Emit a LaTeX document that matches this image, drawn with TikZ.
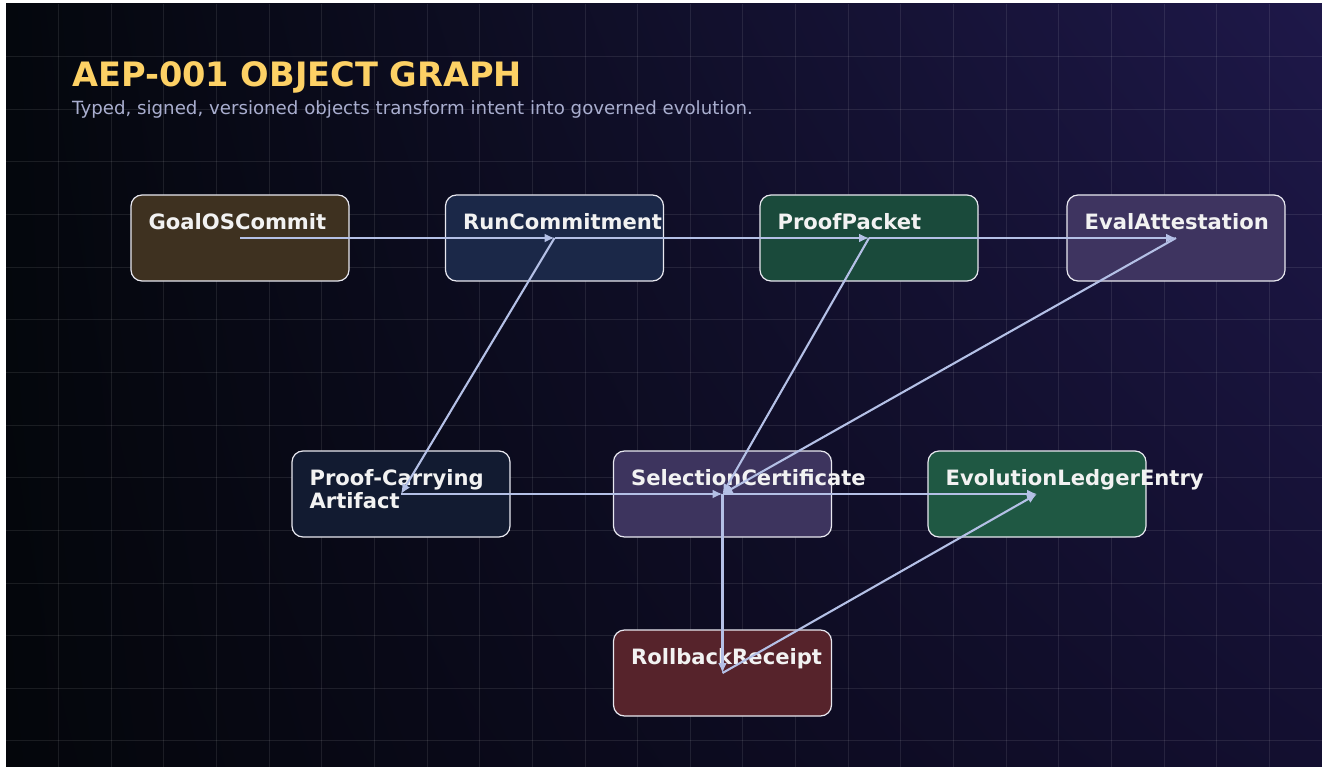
\documentclass[tikz,border=0pt]{standalone}
\usepackage{fontspec}
\setmainfont{DejaVu Sans}
\usetikzlibrary{arrows.meta,calc,shadings}
\definecolor{bgUL}{HTML}{04070D}
\definecolor{bgUR}{HTML}{1E1849}
\definecolor{bgLL}{HTML}{04060B}
\definecolor{bgLR}{HTML}{130F30}
\definecolor{titlecol}{HTML}{FDD165}
\definecolor{subcol}{HTML}{A9AECF}
\definecolor{edgecol}{HTML}{B4C0E6}
\definecolor{bordercol}{HTML}{E8E8F0}
\definecolor{cGoal}{HTML}{3E3120}
\definecolor{cRun}{HTML}{1B2848}
\definecolor{cProof}{HTML}{1A4A3B}
\definecolor{cEval}{HTML}{3E3460}
\definecolor{cPCA}{HTML}{121B31}
\definecolor{cSel}{HTML}{3D345E}
\definecolor{cEvo}{HTML}{1F5843}
\definecolor{cRoll}{HTML}{56232B}
\tikzset{
  objbox/.style={draw=bordercol, line width=1.2pt, rounded corners=11pt,
    minimum width=218pt, minimum height=86pt, inner sep=0pt},
  lbl/.style={text=white!95!black, inner sep=0pt,
    font=\fontsize{21.1}{23}\selectfont\bfseries},
  edge/.style={draw=edgecol, line width=2.1pt,
    -{Latex[length=10pt,width=9pt]}},
  gridline/.style={draw=white, opacity=0.09, line width=1pt}
}
\begin{document}
\begin{tikzpicture}[x=1pt,y=-1pt]
\useasboundingbox (0,0) rectangle (1322,767);
\fill[white] (0,0) rectangle (1322,767);
\shade[upper left=bgUL, upper right=bgUR, lower left=bgLL, lower right=bgLR]
  (6,4) rectangle (1322,767);
\begin{scope}
\clip (6,4) rectangle (1322,767);
\foreach \k in {1,...,25} {
  \draw[gridline] ({6+\k*52.64},4) -- ({6+\k*52.64},767);
}
\foreach \k in {1,...,14} {
  \draw[gridline] (6,{4+\k*52.64}) -- (1322,{4+\k*52.64});
}
\end{scope}
% title
\node[anchor=base west, inner sep=0pt, text=titlecol,
  font=\fontsize{33.6}{38}\selectfont\bfseries] (title) at (72,86.5) {AEP-001 OBJECT GRAPH};
\node[anchor=base west, inner sep=0pt, text=subcol,
  font=\fontsize{18.2}{21}\selectfont] (subtitle) at (72,115)
  {Typed, signed, versioned objects transform intent into governed evolution.};
% boxes
\node[objbox, fill=cGoal]  (goal)  at (240,238) {};
\node[objbox, fill=cRun]   (run)   at (554.5,238) {};
\node[objbox, fill=cProof] (proof) at (869,238) {};
\node[objbox, fill=cEval]  (eval)  at (1176,238) {};
\node[objbox, fill=cPCA]   (pca)   at (401,494) {};
\node[objbox, fill=cSel]   (sel)   at (722.5,494) {};
\node[objbox, fill=cEvo]   (evo)   at (1037,494) {};
\node[objbox, fill=cRoll]  (roll)  at (722.5,673) {};
% labels
\node[lbl, anchor=base west] (goalt)  at ($(goal.north west)+(18,35)$) {GoalOSCommit};
\node[lbl, anchor=base west] (runt)   at ($(run.north west)+(18,35)$) {RunCommitment};
\node[lbl, anchor=base west] (prooft) at ($(proof.north west)+(18,35)$) {ProofPacket};
\node[lbl, anchor=base west] (evalt)  at ($(eval.north west)+(18,35)$) {EvalAttestation};
\node[lbl, anchor=north west, align=left] (pcat) at ($(pca.north west)+(18,18.5)$) {Proof-Carrying\\Artifact};
\node[lbl, anchor=base west] (selt)   at ($(sel.north west)+(18,35)$) {SelectionCertificate};
\node[lbl, anchor=base west] (evot)   at ($(evo.north west)+(18,35)$) {EvolutionLedgerEntry};
\node[lbl, anchor=base west] (rollt)  at ($(roll.north west)+(18,35)$) {RollbackReceipt};
% edges
\draw[edge] (goal.center) -- (run.center);
\draw[edge] (run.center) -- (pca.center);
\draw[edge] (run.center) -- (proof.center);
\draw[edge] (proof.center) -- (eval.center);
\draw[edge] (pca.center) -- (sel.center);
\draw[edge] (proof.center) -- (sel.center);
\draw[edge] (eval.center) -- (sel.center);
\draw[edge] (sel.center) -- (evo.center);
\draw[edge] (sel.center) -- (roll.center);
\draw[edge] (roll.center) -- (evo.center);
\end{tikzpicture}
\end{document}
